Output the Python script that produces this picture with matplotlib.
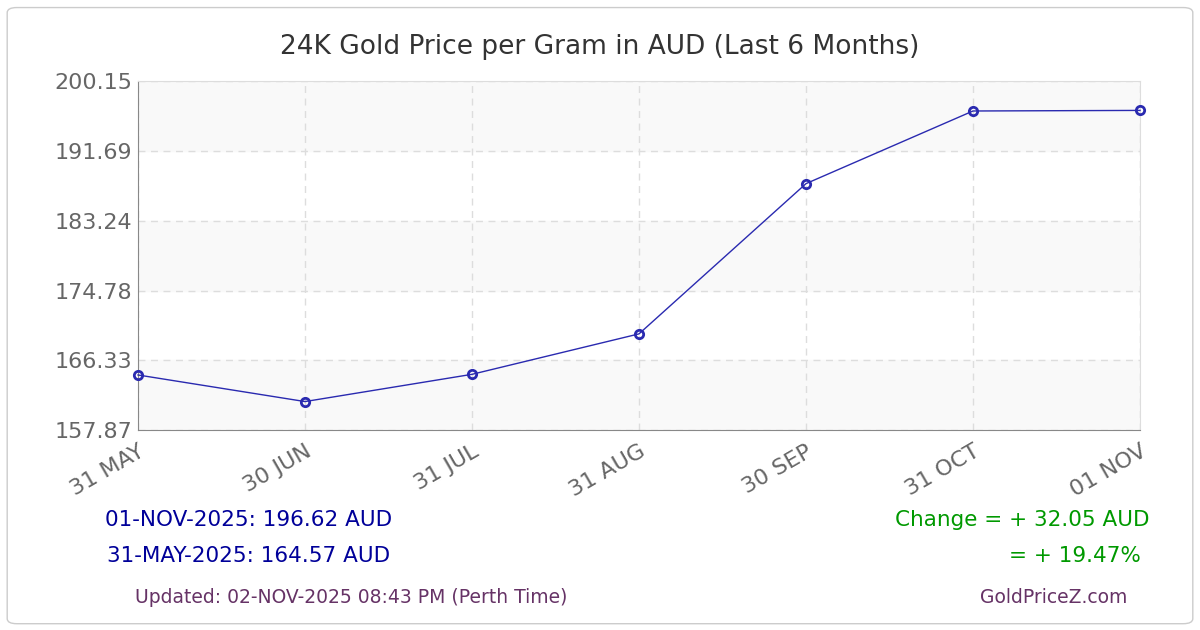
import matplotlib
matplotlib.use("Agg")
import matplotlib.pyplot as plt
from matplotlib.patches import FancyBboxPatch

dates = ["31 MAY", "30 JUN", "31 JUL", "31 AUG", "30 SEP", "31 OCT", "01 NOV"]
prices = [164.57, 161.35, 164.65, 169.55, 187.75, 196.55, 196.62]
yticks = [157.87, 166.33, 174.78, 183.24, 191.69, 200.15]

fig = plt.figure(figsize=(12, 6.3), dpi=100)
border = FancyBboxPatch((0.006, 0.01), 0.988, 0.978, boxstyle="round,pad=0,rounding_size=0.008",
                        transform=fig.transFigure, fc="white", ec="#cccccc", lw=1, zorder=-10)
fig.patches.append(border)
ax = fig.add_axes([0.115, 0.317, 0.835, 0.554])
ax.set_zorder(5)
ax.set_facecolor("white")
for i in range(len(yticks) - 1):
    if i % 2 == 0:
        ax.axhspan(yticks[i], yticks[i + 1], color="#f9f9f9", zorder=0)
x = list(range(len(dates)))
ax.plot(x, prices, color="#2a2ab0", lw=1, marker="o", ms=6, mfc="none", mec="#2a2ab0", mew=2, zorder=3, clip_on=False)
ax.set_xlim(0, len(dates) - 1)
ax.set_ylim(yticks[0], yticks[-1])
ax.set_yticks(yticks)
ax.set_yticklabels([f"{v:.2f}" for v in yticks])
ax.set_xticks(x)
ax.set_xticklabels(dates, rotation=30, ha="right", rotation_mode="anchor")
ax.tick_params(colors="#666666", labelsize=16, length=0, pad=4)
ax.tick_params(axis="x", pad=8)
ax.grid(True, color="#dddddd", ls=(0, (5, 4)), lw=1)
for s in ["top", "right"]:
    ax.spines[s].set_color("#dddddd")
for s in ["left", "bottom"]:
    ax.spines[s].set_color("#888888")
fig.text(0.5, 0.925, "24K Gold Price per Gram in AUD (Last 6 Months)", ha="center", va="center", fontsize=19, color="#333333")
fig.text(0.207, 0.174, "01-NOV-2025: 196.62 AUD", ha="center", va="center", fontsize=15.5, color="#000099")
fig.text(0.207, 0.118, "31-MAY-2025: 164.57 AUD", ha="center", va="center", fontsize=15.5, color="#000099")
fig.text(0.958, 0.174, "Change = + 32.05 AUD", ha="right", va="center", fontsize=15.5, color="#009900")
fig.text(0.951, 0.118, "= + 19.47%", ha="right", va="center", fontsize=15.5, color="#009900")
fig.text(0.293, 0.051, "Updated: 02-NOV-2025 08:43 PM (Perth Time)", ha="center", va="center", fontsize=13.5, color="#663366")
fig.text(0.878, 0.051, "GoldPriceZ.com", ha="center", va="center", fontsize=13.5, color="#663366")
fig.savefig("out.png", dpi=100)
